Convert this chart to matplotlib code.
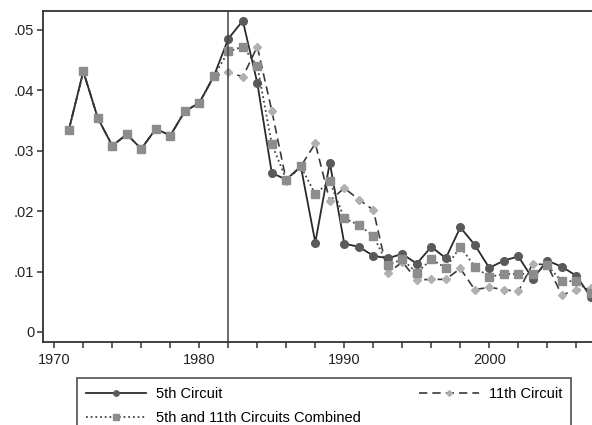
import matplotlib
matplotlib.use("Agg")
import matplotlib.pyplot as plt

plt.rcParams['font.family'] = ['Liberation Sans', 'DejaVu Sans']

# years 1971-2007
years = list(range(1971, 2008))

# shared values before the split (1971-1981)
pre_split = [0.0334, 0.0431, 0.0354, 0.0308, 0.0327, 0.0303, 0.0336, 0.0325,
             0.0365, 0.0379, 0.0423]

# 1982-2007
fifth_post = [0.0485, 0.0515, 0.0412, 0.0263, 0.0252, 0.0274, 0.0148, 0.0280,
              0.0146, 0.0141, 0.0126, 0.0122, 0.0129, 0.0113, 0.0141, 0.0122,
              0.0173, 0.0144, 0.0106, 0.0118, 0.0125, 0.0088, 0.0118, 0.0108,
              0.0093, 0.0058]
eleventh_post = [0.0430, 0.0422, 0.0472, 0.0366, 0.0250, 0.0274, 0.0312, 0.0217,
                 0.0238, 0.0219, 0.0202, 0.0097, 0.0116, 0.0086, 0.0087, 0.0087,
                 0.0105, 0.0070, 0.0074, 0.0070, 0.0067, 0.0113, 0.0111, 0.0061,
                 0.0070, 0.0072]
combined_post = [0.0464, 0.0472, 0.0440, 0.0311, 0.0252, 0.0274, 0.0228, 0.0249,
                 0.0188, 0.0177, 0.0159, 0.0111, 0.0120, 0.0098, 0.0120, 0.0106,
                 0.0141, 0.0108, 0.0091, 0.0096, 0.0096, 0.0096, 0.0110, 0.0084,
                 0.0084, 0.0065]

fifth = pre_split + fifth_post
eleventh = pre_split + eleventh_post
combined = pre_split + combined_post

split_year = 1982
xtick_pos = list(range(1970, 2008, 2))
xtick_labels = [str(y) if y % 10 == 0 else '' for y in xtick_pos]
ytick_pos = [0, 0.01, 0.02, 0.03, 0.04, 0.05]
ytick_labels = ['0', '.01', '.02', '.03', '.04', '.05']

fig = plt.figure(figsize=(5.92, 4.25), dpi=100)
ax = fig.add_axes([42.7 / 592, 83 / 425, (595 - 42.7) / 592, 331 / 425])

ax.plot(years, eleventh, color='#3a3a3a', lw=1.2, ls=(0, (5, 3)),
        marker='D', ms=4.2, mfc='#b0b0b0', mec='#b0b0b0', label='11th Circuit')
ax.plot(years, fifth, color='#2a2a2a', lw=1.3, ls='-',
        marker='o', ms=5.5, mfc='#5a5a5a', mec='#5a5a5a', label='5th Circuit')
ax.plot(years, combined, color='#444444', lw=1.3, ls=(0, (1, 1.6)),
        marker='s', ms=5.5, mfc='#8c8c8c', mec='#8c8c8c',
        label='5th and 11th Circuits Combined')

ax.axvline(split_year, color='#444444', lw=1.1)

ax.set_xlim(1969.2, 2007.29)
ax.set_ylim(-0.00166, 0.0531)
ax.set_xticks(xtick_pos)
ax.set_xticklabels(xtick_labels)
ax.set_yticks(ytick_pos)
ax.set_yticklabels(ytick_labels)
ax.tick_params(axis='both', length=4, width=1.1, color='#333333',
               labelsize=10.5, labelcolor='#222222', pad=2)
ax.tick_params(axis='x', pad=4)

for side in ['left', 'bottom', 'top', 'right']:
    ax.spines[side].set_color('#333333')
    ax.spines[side].set_linewidth(1.3)

h, l = ax.get_legend_handles_labels()
order = [1, 2, 0]
leg = ax.legend([h[i] for i in order], [l[i] for i in order],
                bbox_to_anchor=(77 / 592, 1 - 378 / 425, (571 - 77) / 592, 0),
                bbox_transform=fig.transFigure, loc='upper left', mode='expand',
                ncol=2, fontsize=10.5, frameon=True, fancybox=False,
                edgecolor='#222222', borderaxespad=0, borderpad=0.6,
                handlelength=4.1, handletextpad=0.7, labelspacing=0.7,
                markerscale=0.7)
leg.get_frame().set_linewidth(1.2)

fig.savefig('out.png', dpi=100)
